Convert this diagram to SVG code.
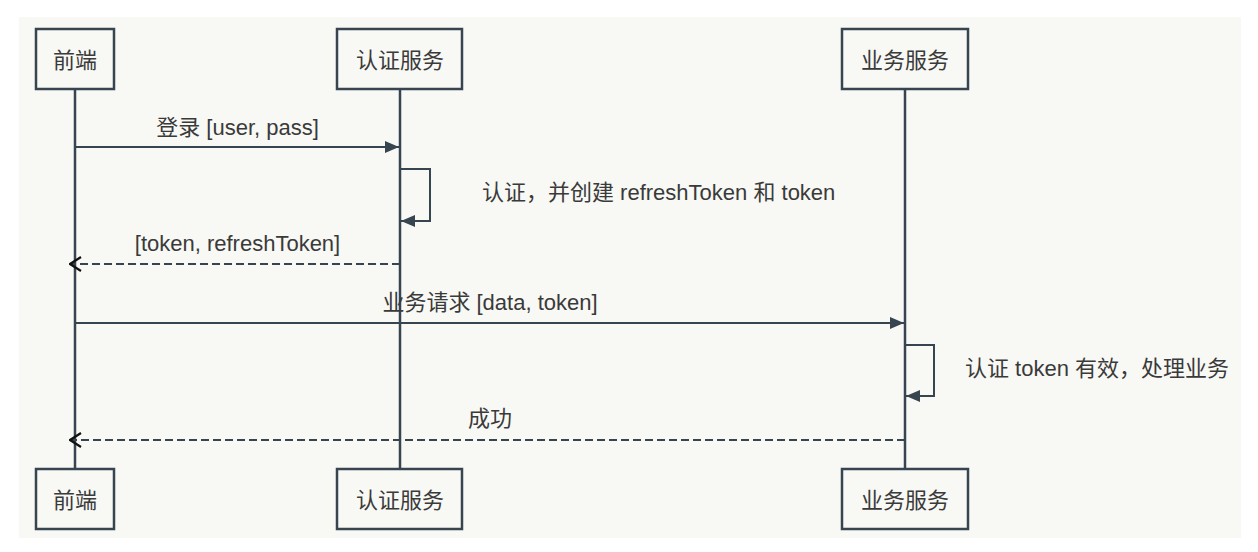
<svg xmlns="http://www.w3.org/2000/svg" width="1258" height="552" viewBox="0 0 1258 552">
  <style>
    .box { fill: #f8f8f5; stroke: #36454f; stroke-width: 2.5; }
    .life { stroke: #36454f; stroke-width: 2.5; fill: none; }
    .msg { stroke: #36454f; stroke-width: 2; fill: none; }
    .ret { stroke: #36454f; stroke-width: 2; fill: none; stroke-dasharray: 8 4; }
    text { font-family: "Liberation Sans", "Noto Sans CJK SC", sans-serif; font-size: 22px; fill: #3a3a3a; }
    .c { text-anchor: middle; }
  </style>
  <defs>
    <marker id="solid" viewBox="0 0 14 12" refX="14" refY="6" markerWidth="14" markerHeight="12" markerUnits="userSpaceOnUse" orient="auto">
      <path d="M0,0 L14,6 L0,12 Z" fill="#36454f"/>
    </marker>
    <marker id="open" viewBox="0 0 13 16" refX="12" refY="8" markerWidth="13" markerHeight="16" markerUnits="userSpaceOnUse" orient="auto">
      <path d="M1,1 L12,8 L1,15" fill="none" stroke="#111" stroke-width="2.2"/>
    </marker>
  </defs>

  <rect x="19" y="17" width="1222" height="521" fill="#f8f8f5"/>

  <!-- lifelines -->
  <g id="lifelines">
    <line class="life" x1="75" y1="89" x2="75" y2="469"/>
    <line class="life" x1="400" y1="89" x2="400" y2="469"/>
    <line class="life" x1="905" y1="89" x2="905" y2="469"/>
  </g>

  <g id="frontend-top">
    <rect class="box" x="36" y="29" width="78" height="60"/>
    <text class="c" x="75" y="68">前端</text>
  </g>
  <g id="auth-top">
    <rect class="box" x="337" y="29" width="125" height="60"/>
    <text class="c" x="400" y="68">认证服务</text>
  </g>
  <g id="biz-top">
    <rect class="box" x="842" y="29" width="126" height="60"/>
    <text class="c" x="905" y="68">业务服务</text>
  </g>
  <g id="frontend-bottom">
    <rect class="box" x="36" y="469" width="78" height="60"/>
    <text class="c" x="75" y="508">前端</text>
  </g>
  <g id="auth-bottom">
    <rect class="box" x="337" y="469" width="125" height="60"/>
    <text class="c" x="400" y="508">认证服务</text>
  </g>
  <g id="biz-bottom">
    <rect class="box" x="842" y="469" width="126" height="60"/>
    <text class="c" x="905" y="508">业务服务</text>
  </g>

  <g id="connectors">
    <line class="msg" x1="75" y1="147" x2="399" y2="147" marker-end="url(#solid)"/>
    <text class="c" x="237.5" y="135">登录 [user, pass]</text>

    <path class="msg" d="M400,169 H430 V221 H401" marker-end="url(#solid)"/>
    <text x="482" y="200">认证，并创建 refreshToken 和 token</text>

    <line class="ret" x1="400" y1="264" x2="70" y2="264" marker-end="url(#open)"/>
    <text class="c" x="237.5" y="251">[token, refreshToken]</text>

    <line class="msg" x1="75" y1="323" x2="904" y2="323" marker-end="url(#solid)"/>
    <text class="c" x="490" y="310">业务请求 [data, token]</text>

    <path class="msg" d="M905,345 H934 V396 H906" marker-end="url(#solid)"/>
    <text x="965" y="376">认证 token 有效，处理业务</text>

    <line class="ret" x1="905" y1="440" x2="70" y2="440" marker-end="url(#open)"/>
    <text class="c" x="490" y="426">成功</text>
  </g>
</svg>
